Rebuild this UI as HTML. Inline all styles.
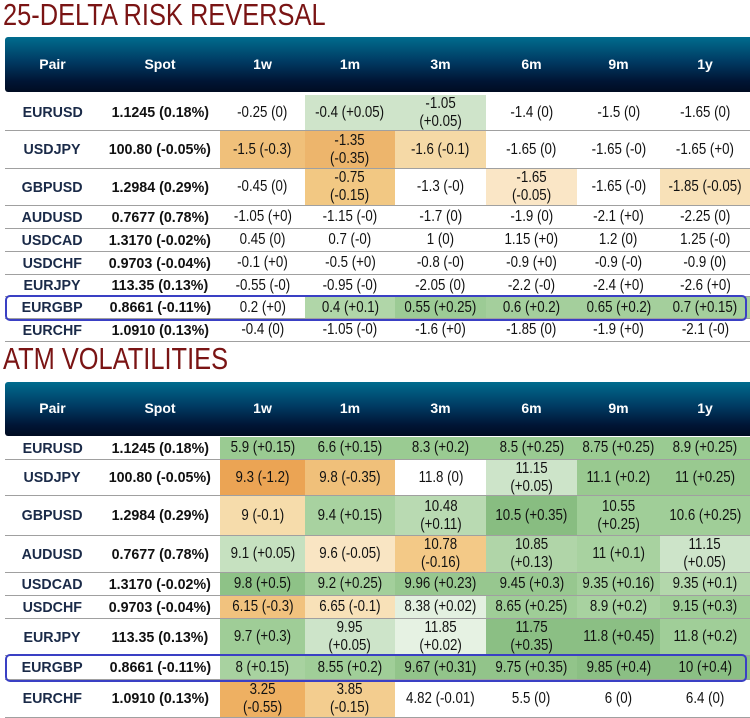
<!DOCTYPE html>
<html><head><meta charset="utf-8">
<style>
html,body{margin:0;padding:0;background:#fff;}
body{width:750px;height:718px;position:relative;overflow:hidden;font-family:"Liberation Sans",sans-serif;}
.title{position:absolute;left:3px;font-size:31px;color:#7a1414;line-height:34px;transform:scaleX(0.82);transform-origin:left top;white-space:nowrap;}
.hdr{position:absolute;left:5px;width:745px;background:linear-gradient(#006c8e 0%,#003a62 45%,#001535 80%,#000c22 100%);border-radius:3px 0 0 3px;}
.hc{position:absolute;color:#fff;font-weight:bold;font-size:14px;text-align:center;}
.cell{position:absolute;display:flex;align-items:center;justify-content:center;text-align:center;font-size:16px;color:#111;line-height:18px;white-space:pre;}
.cell span{display:inline-block;transform:scaleX(0.83);}
.cell.pair span,.cell.spot span{transform:scaleX(0.95);}
.pair{font-weight:bold;color:#1a2a48;font-size:15px;}
.spot{font-weight:bold;color:#111;font-size:15px;}
.line{position:absolute;left:5px;width:745px;height:1px;background:#a0a0a0;}
.hl{position:absolute;left:5px;width:738px;border:2px solid #3a40c4;border-radius:5px;}
</style></head><body>
<div class="title" style="top:-2px">25-DELTA RISK REVERSAL</div>
<div class="title" style="top:342px">ATM VOLATILITIES</div>
<script>
const pairs=["EURUSD","USDJPY","GBPUSD","AUDUSD","USDCAD","USDCHF","EURJPY","EURGBP","EURCHF"];
const tenors=["1w","1m","3m","6m","9m","1y"];
const spots=["1.1245 (0.18%)","100.80 (-0.05%)","1.2984 (0.29%)","0.7677 (0.78%)","1.3170 (-0.02%)","0.9703 (-0.04%)","113.35 (0.13%)","0.8661 (-0.11%)","1.0910 (0.13%)"];
const rrValues=[
["-0.25 (0)","-0.4 (+0.05)","-1.05\n(+0.05)","-1.4 (0)","-1.5 (0)","-1.65 (0)"],
["-1.5 (-0.3)","-1.35\n(-0.35)","-1.6 (-0.1)","-1.65 (0)","-1.65 (-0)","-1.65 (+0)"],
["-0.45 (0)","-0.75\n(-0.15)","-1.3 (-0)","-1.65\n(-0.05)","-1.65 (-0)","-1.85 (-0.05)"],
["-1.05 (+0)","-1.15 (-0)","-1.7 (0)","-1.9 (0)","-2.1 (+0)","-2.25 (0)"],
["0.45 (0)","0.7 (-0)","1 (0)","1.15 (+0)","1.2 (0)","1.25 (-0)"],
["-0.1 (+0)","-0.5 (+0)","-0.8 (-0)","-0.9 (+0)","-0.9 (-0)","-0.9 (0)"],
["-0.55 (-0)","-0.95 (-0)","-2.05 (0)","-2.2 (-0)","-2.4 (+0)","-2.6 (+0)"],
["0.2 (+0)","0.4 (+0.1)","0.55 (+0.25)","0.6 (+0.2)","0.65 (+0.2)","0.7 (+0.15)"],
["-0.4 (0)","-1.05 (-0)","-1.6 (+0)","-1.85 (0)","-1.9 (+0)","-2.1 (-0)"]];
const rrColors=[
["#fff","#cfe4ca","#cfe4ca","#fff","#fff","#fff"],
["#f0c07a","#edb56c","#f5d9a6","#fff","#fff","#fff"],
["#fff","#f2c883","#fff","#fae6c6","#fff","#f8e1b8"],
["#fff","#fff","#fff","#fff","#fff","#fff"],
["#fff","#fff","#fff","#fff","#fff","#fff"],
["#fff","#fff","#fff","#fff","#fff","#fff"],
["#fff","#fff","#fff","#fff","#fff","#fff"],
["#fff","#b0d6a8","#9ccb95","#a4cf9c","#a4cf9c","#a4cf9c"],
["#fff","#fff","#fff","#fff","#fff","#fff"]];
const volValues=[
["5.9 (+0.15)","6.6 (+0.15)","8.3 (+0.2)","8.5 (+0.25)","8.75 (+0.25)","8.9 (+0.25)"],
["9.3 (-1.2)","9.8 (-0.35)","11.8 (0)","11.15\n(+0.05)","11.1 (+0.2)","11 (+0.25)"],
["9 (-0.1)","9.4 (+0.15)","10.48\n(+0.11)","10.5 (+0.35)","10.55\n(+0.25)","10.6 (+0.25)"],
["9.1 (+0.05)","9.6 (-0.05)","10.78\n(-0.16)","10.85\n(+0.13)","11 (+0.1)","11.15\n(+0.05)"],
["9.8 (+0.5)","9.2 (+0.25)","9.96 (+0.23)","9.45 (+0.3)","9.35 (+0.16)","9.35 (+0.1)"],
["6.15 (-0.3)","6.65 (-0.1)","8.38 (+0.02)","8.65 (+0.25)","8.9 (+0.2)","9.15 (+0.3)"],
["9.7 (+0.3)","9.95\n(+0.05)","11.85\n(+0.02)","11.75\n(+0.35)","11.8 (+0.45)","11.8 (+0.2)"],
["8 (+0.15)","8.55 (+0.2)","9.67 (+0.31)","9.75 (+0.35)","9.85 (+0.4)","10 (+0.4)"],
["3.25\n(-0.55)","3.85\n(-0.15)","4.82 (-0.01)","5.5 (0)","6 (0)","6.4 (0)"]];
const volColors=[
["#9acb92","#9acb92","#9acb92","#9acb92","#9acb92","#9acb92"],
["#eba454","#f0c07a","#fff","#cde4c9","#99c990","#99c990"],
["#f6dcab","#a8d2a0","#b9dab2","#88bd81","#a0ce98","#a0ce98"],
["#c6e1c0","#f9e5c3","#f3c987","#b0d5a8","#a8d2a0","#cde4c9"],
["#8ec287","#a3cf9b","#97c78f","#97c78f","#a3cf9b","#b3d7ab"],
["#f1c27e","#f8e1b8","#e3f0e0","#9fcd97","#a8d2a0","#9fcd97"],
["#9fcd97","#cde4c9","#e6f2e3","#8bbf84","#8bbf84","#a0ce98"],
["#a8d2a0","#a0ce98","#92c48a","#92c48a","#8bbf84","#8bbf84"],
["#eeb062","#f3cd8f","#fff","#fff","#fff","#fff"]];
const colX=[[5,100],[100,220],[220,305],[305,395],[395,486],[486,577],[577,660],[660,750]];
function mk(cls,name,l,t,w,h,txt,bg){
  const d=document.createElement('div');
  d.className=cls;
  
  
  d.style.left=l+'px';d.style.top=t+'px';d.style.width=w+'px';d.style.height=h+'px';
  if(bg)d.style.background=bg;
  if(txt!==undefined){const s=document.createElement('span');s.textContent=txt;d.appendChild(s);}
  document.body.appendChild(d);return d;
}
function table(prefix,hTop,hH,rowEdges,vals,cols){
  mk('hdr',prefix+'-header',5,hTop,745,hH);
  const heads=["Pair","Spot"].concat(tenors);
  heads.forEach((h,i)=>{
    mk('hc',prefix+'-header-'+h.toLowerCase(),colX[i][0],hTop+hH/2-9,colX[i][1]-colX[i][0],18,h);
  });
  pairs.forEach((p,r)=>{
    const t=rowEdges[r],b=rowEdges[r+1],h=b-t;
    mk('cell pair',prefix+'-pair-'+p.toLowerCase(),colX[0][0],t,colX[0][1]-colX[0][0],h,p);
    mk('cell spot',prefix+'-spot-'+p.toLowerCase(),colX[1][0],t,colX[1][1]-colX[1][0],h,spots[r]);
    tenors.forEach((tn,c)=>{
      mk('cell',prefix+'-'+p.toLowerCase()+'-'+tn,colX[c+2][0],t,colX[c+2][1]-colX[c+2][0],h-1,vals[r][c],cols[r][c]);
    });
    mk('line',prefix+'-row-divider',5,b-1,745,1);
  });
  const ri=7;
  mk('hl',prefix+'-eurgbp-highlight',5,rowEdges[ri]-2,738,rowEdges[ri+1]-rowEdges[ri]);
}
table('rr',37,55,[95,131,169,206,229,252,275,297,319,342],rrValues,rrColors);
table('vol',382,54,[437,460,496,536,573,596,619,656,680,718],volValues,volColors);
</script>
</body></html>
